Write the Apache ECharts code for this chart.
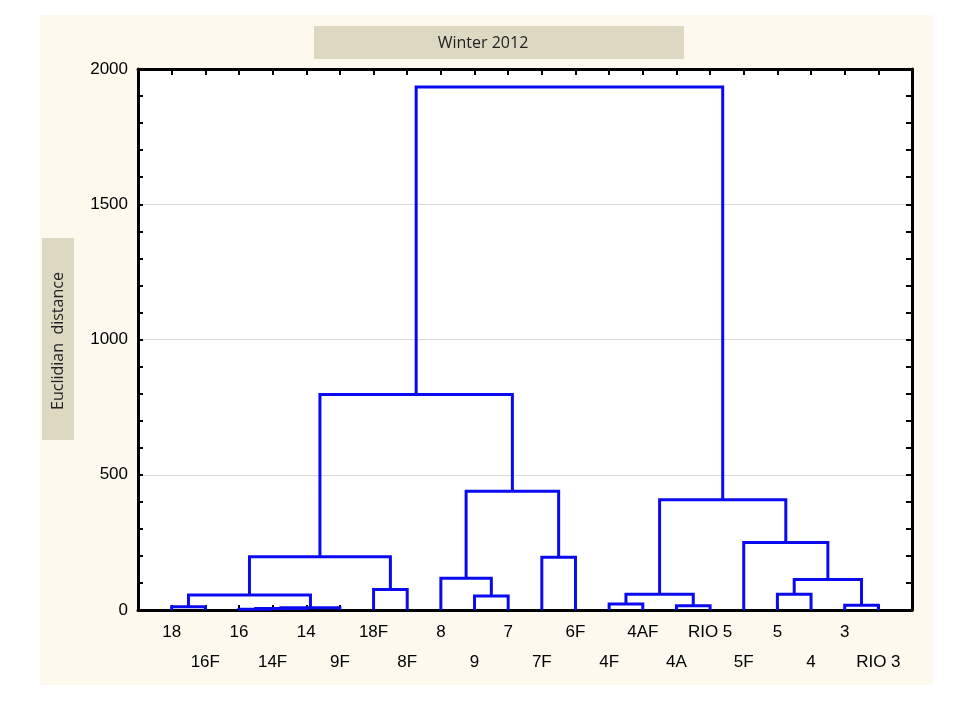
<!DOCTYPE html>
<html>
<head>
<meta charset="utf-8">
<script src="https://cdn.jsdelivr.net/npm/echarts@6/dist/echarts.min.js"></script>
<style>
  html, body { margin: 0; padding: 0; background: #fff; }
  #chart { width: 960px; height: 720px; }
</style>
</head>
<body>
<div id="chart"></div>
<script>
// leaf order along the x axis
var leaves = ['18', '16F', '16', '14F', '14', '9F', '18F', '8F', '8', '9', '7', '7F',
              '6F', '4F', '4AF', '4A', 'RIO 5', '5F', '5', '4', '3', 'RIO 3'];
// merges: [child a, child b, linkage distance]; ids >= 22 are earlier merges
var merges = [
  [0, 1, 12],      // 22
  [2, 3, 3],       // 23
  [23, 4, 6],      // 24
  [24, 5, 8],      // 25
  [22, 25, 55],    // 26
  [6, 7, 76],      // 27
  [26, 27, 197],   // 28
  [9, 10, 52],     // 29
  [8, 29, 117],    // 30
  [11, 12, 195],   // 31
  [30, 31, 439],   // 32
  [28, 32, 797],   // 33
  [15, 16, 16],    // 34
  [13, 14, 22],    // 35
  [35, 34, 58],    // 36
  [18, 19, 58],    // 37
  [20, 21, 18],    // 38
  [37, 38, 113],   // 39
  [17, 39, 250],   // 40
  [36, 40, 408],   // 41
  [33, 41, 1933]   // 42
];
var yTicks = [0, 500, 1000, 1500, 2000];

// node positions: leaves at 1..n, merged nodes at the midpoint of their children
var nodeX = [], nodeH = [];
leaves.forEach(function (name, i) { nodeX.push(i + 1); nodeH.push(0); });
var links = [];
merges.forEach(function (m) {
  links.push([nodeX[m[0]], nodeH[m[0]], nodeX[m[1]], nodeH[m[1]], m[2]]);
  nodeX.push((nodeX[m[0]] + nodeX[m[1]]) / 2);
  nodeH.push(m[2]);
});

var chart = echarts.init(document.getElementById('chart'));
var labelFont = '"Liberation Sans", Arial, sans-serif';
var boxFont = '16px "Open Sans", "DejaVu Sans", sans-serif';
var tickStyle = { color: '#000', width: 2 };

var option = {
  backgroundColor: '#ffffff',
  animation: false,
  graphic: {
    elements: [
      { type: 'rect', z: -100, shape: { x: 40, y: 15, width: 893, height: 670 },
        style: { fill: '#fdf9ef' } },
      { type: 'rect', shape: { x: 314, y: 26, width: 370, height: 33 },
        style: { fill: '#dcd8c2' } },
      { type: 'text', x: 483, y: 43,
        style: { text: 'Winter 2012', fill: '#222', font: boxFont,
                 textAlign: 'center', textVerticalAlign: 'middle' } },
      { type: 'rect', shape: { x: 42, y: 238, width: 32, height: 202 },
        style: { fill: '#dcd8c2' } },
      { type: 'text', x: 58, y: 341, rotation: Math.PI / 2,
        style: { text: 'Euclidian  distance', fill: '#222', font: boxFont,
                 textAlign: 'center', textVerticalAlign: 'middle' } }
    ]
  },
  grid: {
    left: 138, right: 48, top: 69, height: 541,
    show: true, backgroundColor: '#ffffff', borderWidth: 0
  },
  xAxis: [
    {
      type: 'value', min: 0, max: leaves.length + 1, interval: 1,
      axisLine: { onZero: false, lineStyle: { color: '#000', width: 3 } },
      axisTick: { inside: true, length: 5, lineStyle: tickStyle },
      splitLine: { show: false },
      axisLabel: {
        margin: 14, color: '#000', fontSize: 17, fontFamily: labelFont,
        showMinLabel: true, showMaxLabel: true,
        formatter: function (v) {
          var name = leaves[v - 1];
          if (name === undefined) return '';
          return (v - 1) % 2 === 0 ? '{a|' + name + '}' : '{b|' + name + '}';
        },
        rich: {
          a: { fontSize: 17, fontFamily: labelFont, color: '#000' },
          b: { fontSize: 17, fontFamily: labelFont, color: '#000', padding: [30, 0, 0, 0] }
        }
      }
    },
    {
      type: 'value', position: 'top', min: 0, max: leaves.length + 1, interval: 1,
      axisLine: { show: true, onZero: false, lineStyle: { color: '#000', width: 3 } },
      axisTick: { show: true, inside: true, length: 6, lineStyle: tickStyle },
      axisLabel: { show: false },
      splitLine: { show: false }
    }
  ],
  yAxis: [
    {
      type: 'value', min: 0, max: 2000, interval: 500,
      axisLine: { show: true, onZero: false, lineStyle: { color: '#000', width: 3 } },
      axisTick: { show: true, inside: true, length: 5, lineStyle: tickStyle },
      minorTick: { show: true, splitNumber: 5, length: 5, lineStyle: tickStyle },
      axisLabel: {
        margin: 10, color: '#000', fontSize: 17, fontFamily: labelFont,
        formatter: function (v) { return yTicks.indexOf(v) >= 0 ? String(v) : ''; }
      },
      splitLine: { show: true, lineStyle: { color: '#d8d8d8', width: 1 } }
    },
    {
      type: 'value', position: 'right', min: 0, max: 2000, interval: 500,
      axisLine: { show: true, onZero: false, lineStyle: { color: '#000', width: 3 } },
      axisTick: { show: true, inside: true, length: 6, lineStyle: tickStyle },
      minorTick: { show: true, splitNumber: 5, length: 6, lineStyle: tickStyle },
      axisLabel: { show: false },
      splitLine: { show: false }
    }
  ],
  series: [{
    type: 'custom',
    xAxisIndex: 0,
    yAxisIndex: 0,
    data: links,
    renderItem: function (params, api) {
      var p1 = api.coord([api.value(0), api.value(1)]);
      var p2 = api.coord([api.value(0), api.value(4)]);
      var p3 = api.coord([api.value(2), api.value(4)]);
      var p4 = api.coord([api.value(2), api.value(3)]);
      return {
        type: 'polyline',
        shape: { points: [p1, p2, p3, p4] },
        style: { stroke: '#0a0af0', lineWidth: 3, fill: null }
      };
    }
  }]
};
chart.setOption(option);
</script>
</body>
</html>
